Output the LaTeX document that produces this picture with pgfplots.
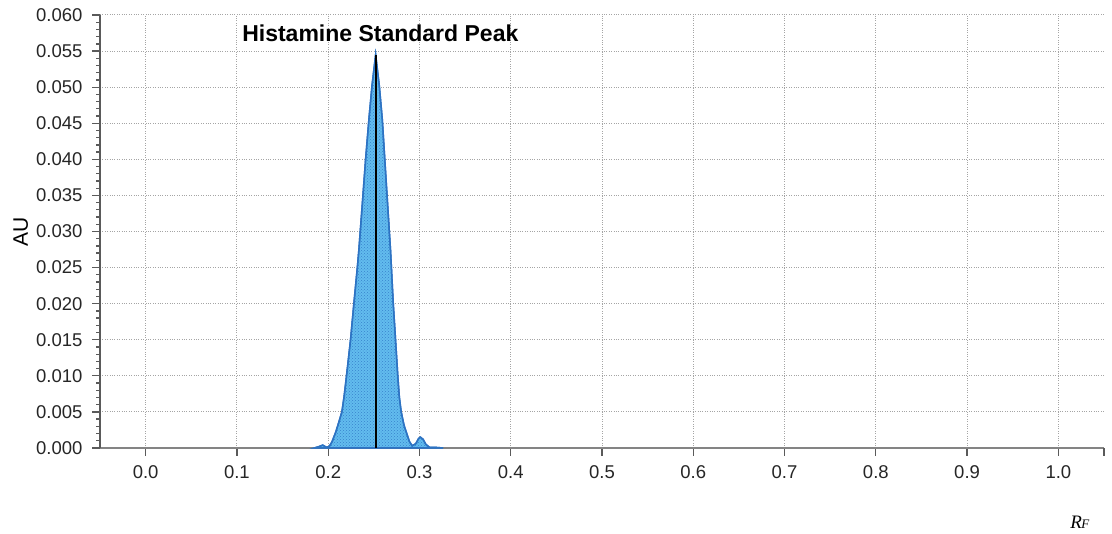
\documentclass[border=0pt]{standalone}
\usepackage{fontspec}
\setmainfont{Liberation Sans}
\newfontfamily\serifit{Liberation Serif}
\usepackage{pgfplots}
\pgfplotsset{compat=1.18}
\usetikzlibrary{patterns}
\definecolor{peakfill}{RGB}{98,188,238}
\definecolor{peakdots}{RGB}{55,130,205}
\definecolor{peakedge}{RGB}{45,115,195}
\definecolor{axgray}{RGB}{90,90,90}
\definecolor{gridgray}{RGB}{165,165,165}
\begin{document}
\begin{tikzpicture}
\begin{axis}[
  name=ax,
  scale only axis,
  width=1004pt, height=433pt,
  xmin=-0.05, xmax=1.05,
  ymin=0, ymax=0.06,
  axis x line=bottom, axis y line=left,
  axis line style={-, axgray, line width=1.6pt},
  x axis line style={line width=1.2pt, gridgray!80!black},
  xtick={0,0.1,...,1.0},
  extra x ticks={1.05},
  extra x tick labels={},
  extra x tick style={grid=none},
  ytick={0,0.005,...,0.0601},
  minor y tick num=4,
  tick align=outside,
  major tick length=8pt,
  minor tick length=4pt,
  tick style={axgray, line width=1.3pt},
  grid=major,
  major grid style={dotted, gridgray, line width=1pt},
  minor grid style={draw=none},
  xticklabel style={/pgf/number format/fixed, /pgf/number format/fixed zerofill, /pgf/number format/precision=1, yshift=-6pt},
  yticklabel style={/pgf/number format/fixed, /pgf/number format/fixed zerofill, /pgf/number format/precision=3, xshift=-6pt},
  /pgf/number format/assume math mode=true,
  scaled y ticks=false,
  scaled x ticks=false,
  tick label style={font=\fontsize{18.5}{20}\selectfont, text=black!85},
  clip=false,
]
\addplot[fill=peakfill, draw=peakedge, line width=1.5pt,
  postaction={pattern=crosshatch dots, pattern color=peakdots}]
  coordinates {
  (0.185,0) (0.190,0.0002) (0.194,0.0004) (0.198,0.0001) (0.201,0.0002)
  (0.204,0.0008) (0.208,0.0021) (0.211,0.0033) (0.215,0.0050) (0.2175,0.0072)
  (0.220,0.0099) (0.2245,0.0150) (0.228,0.0198)
  (0.232,0.0251) (0.2336,0.0274) (0.2375,0.0340) (0.241,0.0400) (0.2446,0.0455)
  (0.248,0.0502) (0.252,0.0545) (0.256,0.0502) (0.2593,0.0455) (0.263,0.0380)
  (0.2665,0.0310) (0.2683,0.0274) (0.2713,0.0200) (0.2738,0.0150) (0.2763,0.0099)
  (0.278,0.0070) (0.280,0.0050) (0.283,0.0032) (0.2866,0.0018) (0.289,0.0009)
  (0.292,0.0003) (0.296,0.0006) (0.299,0.0013) (0.301,0.0015) (0.304,0.0012)
  (0.307,0.0005) (0.311,0.0001) (0.316,0.0001) (0.326,0)
  } \closedcycle;
\addplot[black, line width=2pt] coordinates {(0.252,0) (0.252,0.0545)};
\node[anchor=west, font=\bfseries\fontsize{23}{25}\selectfont] at (axis cs:0.102,0.0575) {Histamine Standard Peak};
\node[rotate=90, font=\fontsize{21}{23}\selectfont] at (axis description cs:-0.079,0.5) {AU};
\node[font=\serifit\itshape\fontsize{19}{21}\selectfont] at (axis description cs:0.976,-0.171) {R\kern-0.5pt{\fontsize{13}{14}\selectfont F}};
\end{axis}
\pgfresetboundingbox
\path (ax.south west) ++(-100pt,-86pt) coordinate (bl);
\path (ax.north east) ++(8pt,15pt) coordinate (tr);
\path[use as bounding box] (bl) rectangle (tr);
\end{tikzpicture}
\end{document}
